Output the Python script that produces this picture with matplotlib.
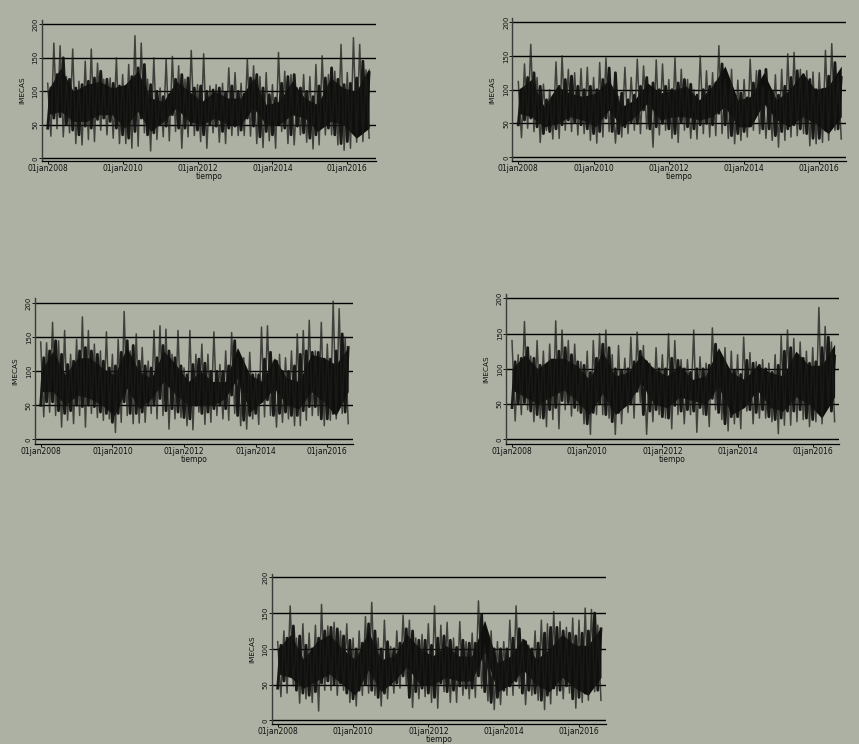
import matplotlib

matplotlib.use("Agg")
import matplotlib.dates as mdates
import matplotlib.pyplot as plt
import pandas as pd

BACKGROUND = "#adb1a3"
YEAR_TICKS = ["2008-01-01", "2010-01-01", "2012-01-01", "2014-01-01", "2016-01-01"]
YEAR_LABELS = ["01jan2008", "01jan2010", "01jan2012", "01jan2014", "01jan2016"]
Y_TICKS = [0, 50, 100, 150, 200]

# Spike tops and bottoms every two months, the edge of
# the dense strokes every two months, the dark body every four months or so.
# fmt: off
HI_1 = [112, 172, 168, 122, 163, 115, 145, 163, 142, 118, 120, 150, 125, 140, 183, 172, 118, 150, 105, 148, 152, 138, 118, 161, 110, 156, 108, 110, 112, 135, 128, 112, 148, 138, 122, 128, 110, 158, 130, 125, 105, 125, 122, 140, 153, 125, 130, 170, 128, 180, 170, 132]
LO_1 = [33, 44, 32, 38, 22, 20, 28, 25, 42, 35, 30, 22, 22, 15, 18, 38, 11, 28, 32, 26, 40, 15, 32, 34, 25, 15, 38, 24, 22, 34, 34, 34, 33, 22, 16, 26, 15, 40, 22, 20, 35, 24, 14, 20, 35, 35, 20, 12, 15, 24, 25, 30]
MID_HI_1 = [105, 125, 150, 118, 105, 110, 115, 120, 130, 118, 112, 108, 105, 122, 135, 140, 110, 100, 92, 95, 118, 125, 120, 105, 108, 100, 102, 105, 98, 108, 100, 96, 120, 125, 105, 95, 90, 112, 122, 125, 105, 100, 92, 108, 120, 135, 118, 110, 112, 120, 145, 128]
MID_LO_1 = [45, 60, 62, 50, 42, 35, 48, 45, 58, 60, 55, 45, 35, 30, 40, 60, 35, 38, 50, 48, 65, 45, 45, 50, 42, 35, 50, 48, 40, 45, 48, 42, 60, 48, 32, 40, 35, 58, 45, 35, 48, 38, 30, 35, 48, 45, 35, 22, 25, 38, 40, 45]
BODY_HI_1 = [100, 135, 100, 110, 115, 105, 110, 130, 90, 85, 115, 100, 85, 100, 90, 90, 120, 80, 85, 115, 90, 80, 120, 105, 100, 135]
BODY_LO_1 = [65, 70, 55, 55, 65, 65, 45, 70, 40, 55, 75, 55, 50, 60, 50, 50, 75, 50, 50, 65, 60, 40, 55, 50, 30, 45]

HI_2 = [112, 138, 167, 118, 108, 100, 141, 150, 130, 125, 131, 133, 118, 140, 147, 104, 90, 133, 118, 145, 135, 105, 144, 138, 115, 147, 130, 115, 100, 150, 128, 125, 165, 115, 130, 114, 115, 145, 128, 105, 100, 122, 130, 153, 155, 130, 128, 126, 125, 158, 168, 122]
LO_2 = [29, 43, 38, 22, 40, 27, 28, 40, 38, 33, 35, 25, 21, 30, 38, 21, 30, 35, 40, 35, 42, 15, 33, 40, 28, 22, 40, 28, 27, 35, 30, 32, 35, 28, 20, 25, 30, 40, 35, 28, 25, 15, 25, 30, 32, 35, 17, 20, 22, 25, 40, 27]
MID_HI_2 = [100, 118, 125, 105, 85, 82, 105, 115, 120, 105, 100, 105, 100, 115, 132, 125, 95, 85, 92, 105, 118, 110, 100, 105, 100, 110, 115, 108, 92, 100, 105, 110, 138, 105, 90, 95, 88, 110, 128, 130, 98, 92, 105, 118, 128, 122, 115, 100, 100, 120, 140, 118]
MID_LO_2 = [48, 55, 58, 45, 35, 38, 42, 48, 55, 52, 48, 42, 35, 38, 58, 38, 35, 45, 52, 50, 70, 42, 45, 50, 42, 35, 52, 45, 42, 48, 50, 48, 65, 48, 32, 35, 38, 55, 65, 42, 42, 32, 38, 42, 48, 42, 35, 28, 28, 40, 48, 42]
BODY_HI_2 = [100, 115, 75, 105, 95, 90, 95, 115, 75, 85, 110, 95, 100, 105, 85, 105, 135, 85, 90, 125, 85, 100, 125, 100, 105, 135]
BODY_LO_2 = [65, 60, 45, 50, 60, 55, 45, 70, 45, 60, 80, 55, 60, 60, 55, 60, 75, 45, 45, 80, 55, 45, 60, 50, 35, 60]

HI_3 = [143, 142, 172, 145, 160, 125, 147, 180, 160, 140, 130, 158, 125, 147, 188, 130, 155, 135, 115, 160, 167, 162, 125, 160, 105, 160, 125, 140, 125, 158, 110, 130, 157, 120, 120, 128, 97, 165, 167, 115, 125, 120, 130, 155, 160, 175, 130, 172, 140, 203, 192, 150]
LO_3 = [33, 40, 35, 18, 28, 23, 35, 18, 38, 32, 28, 30, 10, 25, 35, 23, 24, 25, 38, 30, 35, 15, 30, 32, 20, 14, 40, 22, 25, 35, 30, 28, 38, 20, 15, 30, 22, 33, 35, 18, 25, 30, 20, 20, 28, 35, 35, 20, 28, 30, 38, 23]
MID_HI_3 = [120, 130, 145, 125, 110, 115, 130, 135, 130, 125, 115, 105, 108, 128, 145, 138, 115, 108, 105, 120, 138, 130, 120, 108, 95, 110, 118, 112, 100, 100, 100, 108, 145, 115, 100, 95, 95, 118, 128, 115, 100, 100, 108, 125, 130, 128, 128, 118, 118, 130, 155, 135]
MID_LO_3 = [50, 55, 55, 42, 38, 42, 50, 48, 50, 48, 40, 38, 25, 38, 55, 38, 38, 40, 50, 50, 60, 42, 45, 40, 32, 30, 50, 38, 40, 45, 50, 45, 65, 35, 28, 35, 38, 55, 58, 35, 38, 40, 35, 35, 42, 48, 48, 30, 30, 38, 52, 40]
BODY_HI_3 = [100, 130, 95, 120, 120, 105, 95, 135, 100, 90, 130, 110, 85, 100, 85, 85, 135, 95, 85, 120, 90, 85, 125, 120, 110, 135]
BODY_LO_3 = [70, 70, 50, 65, 60, 50, 35, 75, 45, 60, 85, 65, 50, 50, 50, 60, 90, 40, 55, 75, 50, 45, 70, 55, 35, 70]

HI_4 = [140, 120, 167, 118, 140, 125, 135, 168, 155, 140, 135, 110, 125, 140, 150, 155, 120, 133, 115, 145, 152, 133, 108, 130, 120, 150, 140, 113, 113, 155, 117, 108, 158, 125, 130, 125, 120, 145, 123, 110, 113, 108, 120, 147, 155, 143, 138, 125, 130, 187, 160, 138]
LO_4 = [26, 35, 42, 25, 30, 18, 28, 15, 42, 33, 40, 22, 7, 35, 35, 30, 7, 22, 38, 30, 52, 7, 25, 35, 30, 15, 35, 22, 35, 10, 35, 18, 42, 28, 12, 22, 15, 40, 22, 30, 30, 25, 8, 20, 20, 25, 28, 18, 25, 22, 48, 25]
MID_HI_4 = [110, 115, 130, 115, 105, 105, 112, 125, 130, 120, 110, 105, 95, 115, 135, 130, 100, 98, 100, 110, 125, 110, 100, 100, 100, 115, 112, 100, 95, 100, 100, 105, 135, 108, 100, 98, 92, 112, 108, 105, 100, 95, 105, 125, 130, 120, 115, 108, 110, 130, 145, 118]
MID_LO_4 = [45, 50, 52, 40, 35, 30, 42, 45, 55, 52, 45, 38, 22, 38, 50, 35, 25, 38, 48, 50, 68, 35, 40, 42, 32, 30, 48, 40, 42, 40, 45, 35, 58, 38, 22, 32, 32, 52, 42, 38, 42, 32, 28, 30, 40, 40, 42, 30, 28, 38, 58, 40]
BODY_HI_4 = [100, 120, 100, 115, 115, 105, 85, 125, 90, 95, 120, 100, 90, 105, 85, 90, 130, 95, 85, 105, 95, 90, 125, 105, 105, 135]
BODY_LO_4 = [70, 60, 50, 60, 70, 55, 35, 65, 35, 50, 80, 50, 45, 60, 55, 50, 75, 35, 45, 70, 45, 40, 60, 50, 30, 60]

HI_5 = [110, 125, 160, 115, 135, 122, 133, 162, 132, 137, 125, 135, 115, 125, 145, 165, 115, 140, 103, 125, 147, 140, 115, 120, 135, 160, 133, 137, 115, 138, 110, 122, 167, 105, 125, 110, 110, 140, 160, 113, 105, 125, 140, 135, 152, 138, 130, 143, 140, 157, 155, 133]
LO_5 = [33, 38, 48, 24, 30, 25, 13, 42, 42, 35, 42, 25, 20, 35, 38, 35, 20, 30, 38, 45, 50, 18, 30, 33, 25, 17, 40, 25, 25, 35, 30, 32, 45, 27, 15, 22, 35, 35, 45, 22, 35, 28, 15, 23, 35, 30, 38, 17, 25, 28, 40, 28]
MID_HI_5 = [105, 115, 132, 118, 105, 100, 115, 125, 130, 128, 118, 112, 100, 108, 135, 125, 100, 110, 100, 108, 128, 125, 112, 112, 105, 115, 118, 112, 102, 112, 108, 108, 148, 105, 100, 100, 100, 115, 128, 110, 100, 108, 122, 130, 130, 125, 122, 118, 122, 125, 150, 128]
MID_LO_5 = [45, 55, 62, 42, 38, 35, 40, 52, 55, 50, 52, 38, 30, 42, 50, 42, 32, 38, 50, 52, 62, 32, 40, 45, 38, 32, 52, 40, 42, 48, 45, 45, 62, 40, 25, 32, 42, 48, 55, 38, 42, 38, 28, 35, 45, 42, 48, 30, 32, 38, 50, 42]
BODY_HI_5 = [100, 120, 85, 110, 120, 100, 85, 125, 85, 90, 120, 100, 90, 105, 90, 90, 140, 80, 90, 115, 85, 100, 120, 105, 105, 130]
BODY_LO_5 = [65, 60, 45, 55, 65, 50, 35, 70, 40, 55, 75, 50, 50, 60, 55, 55, 95, 40, 50, 70, 50, 40, 60, 45, 35, 60]
# fmt: on

SERIES = [
    (HI_1, LO_1, MID_HI_1, MID_LO_1, BODY_HI_1, BODY_LO_1),
    (HI_2, LO_2, MID_HI_2, MID_LO_2, BODY_HI_2, BODY_LO_2),
    (HI_3, LO_3, MID_HI_3, MID_LO_3, BODY_HI_3, BODY_LO_3),
    (HI_4, LO_4, MID_HI_4, MID_LO_4, BODY_HI_4, BODY_LO_4),
    (HI_5, LO_5, MID_HI_5, MID_LO_5, BODY_HI_5, BODY_LO_5),
]

# pixels: spine left, right end, spine top, spine bottom, y=200, y=0, 2008 tick, 2016 tick
LAYOUT = [
    (41.7, 375.7, 20.0, 161.3, 24.3, 158.3, 47.7, 347.3),
    (512.3, 845.7, 18.3, 161.3, 22.0, 157.3, 518.3, 819.3),
    (35.0, 353.3, 297.7, 444.0, 303.3, 439.3, 40.7, 327.3),
    (506.0, 839.0, 294.0, 444.0, 298.3, 439.3, 512.0, 812.7),
    (271.7, 605.7, 574.3, 724.3, 577.3, 720.3, 277.7, 579.0),
]

W, H = 859, 744
months = mdates.date2num(pd.date_range("2008-01-01", periods=104, freq="MS"))
body_x = mdates.date2num(pd.date_range("2008-01-01", "2016-08-01", periods=26))
tick_x = mdates.date2num(pd.to_datetime(YEAR_TICKS))

fig = plt.figure(figsize=(W / 100, H / 100), dpi=100, facecolor=BACKGROUND)

for series, box in zip(SERIES, LAYOUT):
    hi, lo, mid_hi, mid_lo, body_hi, body_lo = series
    left, right, top, bottom, y200, y0, x08, x16 = box
    ax = fig.add_axes([left / W, 1 - bottom / H, (right - left) / W, (bottom - top) / H])
    ax.set_facecolor(BACKGROUND)

    per_px = (tick_x[-1] - tick_x[0]) / (x16 - x08)
    ax.set_xlim(tick_x[0] - (x08 - left) * per_px, tick_x[0] + (right - x08) * per_px)
    ax.set_ylim((y0 - bottom) * 200 / (y0 - y200), (y0 - top) * 200 / (y0 - y200))

    spikes = [v for pair in zip(hi, lo) for v in pair]
    dense = [v for pair in zip(mid_lo, mid_hi) for v in pair]
    ax.fill_between(body_x, body_lo, body_hi, color="#0e0e0b", lw=0, zorder=3)
    ax.plot(months, dense, color="#10100e", alpha=0.95, lw=2.0, zorder=4)
    ax.plot(months, spikes, color="#1c1c1a", alpha=0.75, lw=1.1, zorder=4)

    for y in Y_TICKS:
        ax.axhline(y, color="black", lw=1.0, zorder=2)

    ax.spines["top"].set_visible(False)
    ax.spines["right"].set_visible(False)
    ax.spines["left"].set_color("#3a3a38")
    ax.spines["left"].set_linewidth(1.0)
    ax.spines["bottom"].set_linewidth(0.9)

    ax.set_xticks(tick_x, YEAR_LABELS, fontsize=5.5, fontfamily="DejaVu Sans")
    ax.set_yticks(Y_TICKS)
    ax.set_yticklabels(
        Y_TICKS,
        rotation=90,
        va="center",
        fontsize=5,
        fontfamily=["Liberation Sans Narrow", "DejaVu Sans"],
    )
    ax.tick_params(axis="both", length=2.0, width=0.7, pad=0.3, colors="#111111")
    ax.set_xlabel("tiempo", fontsize=5.5, labelpad=-1.0, color="#111111")
    ax.set_ylabel(
        "IMECAS",
        fontsize=5.2,
        labelpad=5.5,
        color="#111111",
        fontfamily=["Liberation Sans Narrow", "DejaVu Sans"],
    )

fig.savefig("out.png", dpi=100, facecolor=BACKGROUND)
